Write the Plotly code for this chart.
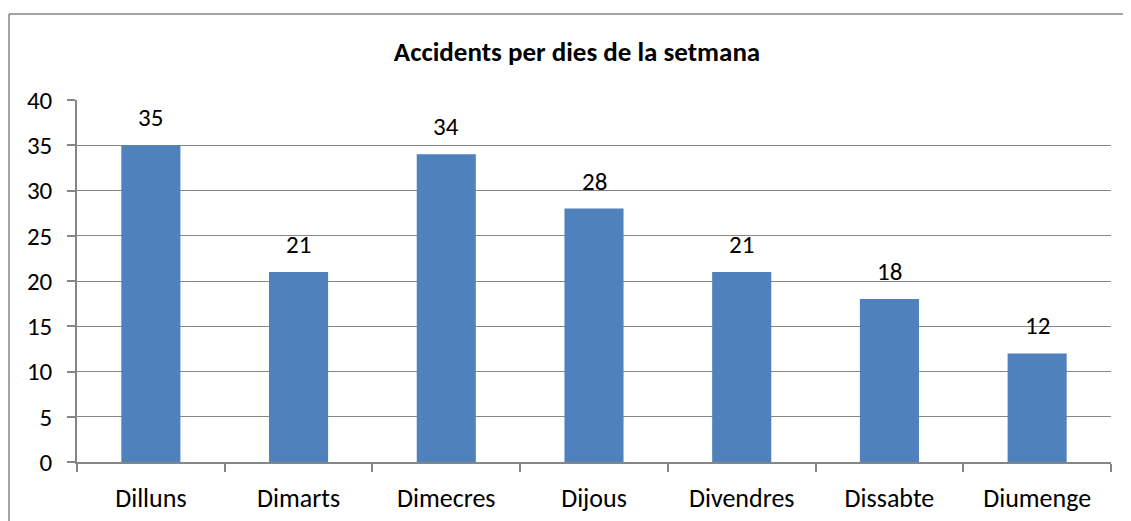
import plotly.graph_objects as go

days = ["Dilluns", "Dimarts", "Dimecres", "Dijous", "Divendres", "Dissabte", "Diumenge"]
accidents = [35, 21, 34, 28, 21, 18, 12]
title_text = "Accidents per dies de la setmana"

# page is offset by the 8px body margin
OFF = 8
W, H = 1131 - OFF, 521 - OFF
L, T = 77 - OFF, 100 - OFF
R = W - (1111 - OFF)
B = H - (462 - OFF)
pw, ph = W - L - R, H - T - B

def px(x):
    return (x - L) / pw

def py(y):
    return 1 - (y - T) / ph

font_family = "Carlito, Calibri, Lato, 'Open Sans', sans-serif"

fig = go.Figure(go.Bar(
    x=days, y=accidents,
    marker=dict(color="#4F81BD", line=dict(width=0)),
    cliponaxis=False,
))

for d, v in zip(days, accidents):
    fig.add_annotation(x=d, y=v, text=str(v), showarrow=False,
                       xanchor="center", yanchor="bottom", yshift=10,
                       font=dict(size=25, color="#000000", family=font_family))

border = dict(color="#868686", width=1.5)
fig.update_layout(
    width=W, height=H,
    margin=dict(l=L, r=R, t=T, b=B, autoexpand=False),
    paper_bgcolor="white", plot_bgcolor="white",
    bargap=0.6,
    showlegend=False,
    title=dict(text="<b>" + title_text + "</b>", x=(577 - OFF) / W, xref="container", xanchor="center",
               y=1 - (52 - OFF) / H, yref="container", yanchor="middle",
               font=dict(size=27, color="#000000", family=font_family)),
    font=dict(family=font_family, size=25, color="#000000"),
    xaxis=dict(
        showline=True, linecolor="#868686", linewidth=1.5,
        ticks="outside", tickson="boundaries", ticklen=8, tickcolor="#868686", tickwidth=1.5,
        showgrid=False, tickfont=dict(size=26), ticklabelstandoff=12, automargin=False,
    ),
    yaxis=dict(
        range=[0, 40], dtick=5, showline=True, linecolor="#868686", linewidth=1.5,
        ticks="outside", ticklen=8, tickcolor="#868686", tickwidth=1.5,
        showgrid=True, gridcolor="#868686", gridwidth=1, zeroline=False,
        tickfont=dict(size=25), ticklabelstandoff=10, automargin=False,
    ),
    shapes=[
        dict(type="line", xref="paper", yref="paper",
             x0=px(1), x1=px(W), y0=py(14 - OFF), y1=py(14 - OFF), line=border, layer="above"),
        dict(type="line", xref="paper", yref="paper",
             x0=px(1), x1=px(1), y0=py(14 - OFF), y1=py(H), line=border, layer="above"),
    ],
)

fig.write_html("out.html")
